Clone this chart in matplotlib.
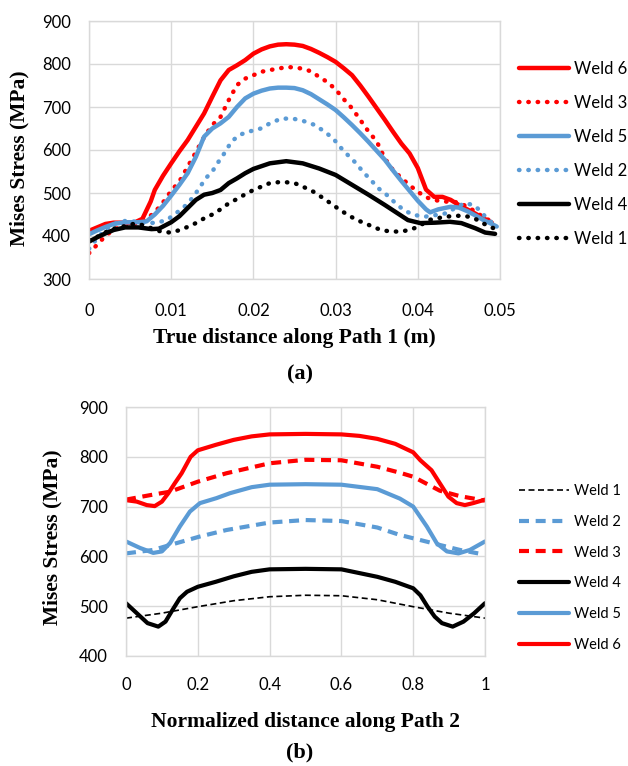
import matplotlib
matplotlib.use("Agg")
import matplotlib.pyplot as plt

# ---------------- Data: (a) Path 1 ----------------
x_w6a = [0, 0.001, 0.002, 0.003, 0.004, 0.0055, 0.0065, 0.0075, 0.008, 0.009, 0.010, 0.011, 0.012, 0.013,
         0.014, 0.015, 0.016, 0.017, 0.018, 0.019, 0.020, 0.021, 0.022, 0.023, 0.024, 0.025, 0.026, 0.027,
         0.028, 0.029, 0.030, 0.031, 0.032, 0.033, 0.034, 0.035, 0.036, 0.037, 0.038, 0.039, 0.040, 0.041,
         0.042, 0.043, 0.044, 0.045, 0.046, 0.047, 0.048, 0.049]
y_w6a = [412, 420, 428, 431, 431, 431, 440, 480, 507, 540, 569, 597, 623, 654,
         685, 724, 762, 786, 797, 809, 824, 834, 841, 845, 846, 845, 842, 835,
         826, 816, 805, 790, 774, 750, 724, 697, 670, 642, 615, 592, 558, 508,
         491, 491, 484, 472, 462, 452, 441, 431]

x_w3a = [0, 0.001, 0.002, 0.003, 0.004, 0.005, 0.006, 0.007, 0.008, 0.009, 0.010, 0.011, 0.012, 0.013,
         0.014, 0.015, 0.016, 0.017, 0.018, 0.019, 0.020, 0.021, 0.022, 0.023, 0.024, 0.025, 0.026, 0.027,
         0.028, 0.029, 0.030, 0.031, 0.032, 0.033, 0.034, 0.035, 0.036, 0.037, 0.038, 0.039, 0.040, 0.041,
         0.042, 0.043, 0.044, 0.045, 0.046, 0.047, 0.048, 0.049]
y_w3a = [360, 380, 400, 415, 422, 426, 430, 440, 455, 478, 505, 527, 561, 595,
         630, 658, 677, 716, 751, 766, 774, 782, 786, 789, 793, 792, 789, 783,
         770, 758, 741, 718, 697, 670, 643, 620, 580, 553, 535, 518, 503, 490,
         484, 480, 480, 478, 468, 457, 443, 434]

x_w5a = [0, 0.001, 0.002, 0.003, 0.004, 0.005, 0.006, 0.007, 0.008, 0.009, 0.010, 0.011, 0.012, 0.013,
         0.014, 0.015, 0.016, 0.017, 0.018, 0.019, 0.020, 0.021, 0.022, 0.023, 0.024, 0.025, 0.026, 0.027,
         0.028, 0.029, 0.030, 0.031, 0.032, 0.033, 0.034, 0.035, 0.036, 0.037, 0.038, 0.039, 0.040, 0.041,
         0.0415, 0.0425, 0.044, 0.045, 0.046, 0.047, 0.048, 0.049, 0.0496]
y_w5a = [404, 413, 421, 428, 431, 432, 432, 434, 450, 470, 494, 519, 546, 584,
         631, 650, 662, 677, 700, 720, 731, 738, 743, 745, 745, 744, 739, 730,
         718, 706, 693, 676, 658, 639, 619, 598, 577, 552, 528, 505, 482, 462,
         455, 462, 468, 466, 458, 448, 437, 428, 422]

x_w2a = [0, 0.001, 0.002, 0.003, 0.0046, 0.0058, 0.007, 0.0084, 0.0096, 0.0106, 0.0117, 0.0127, 0.0134,
         0.0142, 0.0151, 0.0159, 0.0166, 0.0173, 0.0183, 0.0193, 0.0209, 0.0221, 0.0234, 0.0248, 0.026,
         0.0275, 0.0287, 0.0297, 0.0305, 0.0315, 0.0325, 0.0333, 0.0343, 0.0352, 0.0362, 0.0372, 0.0383,
         0.0395, 0.0409, 0.0423, 0.0435, 0.0447, 0.0458, 0.047, 0.0478, 0.0489, 0.0496]
y_w2a = [370, 395, 415, 428, 436, 433, 430, 431, 439, 453, 470, 491, 511,
         534, 553, 577, 596, 619, 635, 642, 650, 663, 673, 673, 668,
         658, 642, 627, 608, 588, 569, 550, 530, 511, 496, 478, 460,
         449, 445, 449, 453, 467, 477, 470, 453, 433, 422]

x_w4a = [0, 0.001, 0.002, 0.003, 0.0044, 0.006, 0.0076, 0.0085, 0.0092, 0.010, 0.011, 0.012, 0.013, 0.014,
         0.015, 0.016, 0.017, 0.018, 0.019, 0.020, 0.022, 0.024, 0.026, 0.028, 0.030, 0.032, 0.034, 0.036,
         0.038, 0.0388, 0.0403, 0.0421, 0.0439, 0.0453, 0.047, 0.0482, 0.0494]
y_w4a = [387, 397, 406, 414, 420, 420, 416, 417, 424, 432, 446, 465, 484, 496,
         500, 507, 523, 534, 546, 556, 569, 574, 569, 557, 542, 519, 496, 472,
         447, 437, 430, 431, 433, 430, 418, 408, 405]

x_w1a = [0, 0.001, 0.00215, 0.0032, 0.0044, 0.0056, 0.0066, 0.0076, 0.0088, 0.0099, 0.0111, 0.0121, 0.013,
         0.014, 0.015, 0.016, 0.017, 0.018, 0.019, 0.020, 0.021, 0.022, 0.023, 0.024, 0.025, 0.026, 0.0273,
         0.0285, 0.0297, 0.0305, 0.0315, 0.0325, 0.0335, 0.0345, 0.0355, 0.0365, 0.0378, 0.039, 0.0401,
         0.0413, 0.0423, 0.0435, 0.0445, 0.0457, 0.0469, 0.0478, 0.0489, 0.05]
y_w1a = [390, 398, 410, 418, 423, 429, 425, 418, 410, 408, 414, 422, 430,
         441, 450, 462, 476, 486, 497, 507, 515, 523, 525, 525, 523, 515, 503,
         488, 472, 461, 449, 438, 430, 422, 414, 411, 410, 414, 422,
         437, 441, 445, 447, 447, 441, 431, 420, 414]

xticks_a = [0, 0.01, 0.02, 0.03, 0.04, 0.05]
xticklabels_a = ["0", "0.01", "0.02", "0.03", "0.04", "0.05"]
yticks_a = [300, 400, 500, 600, 700, 800, 900]

# ---------------- Data: (b) Path 2 ----------------
x_w6b = [0, 0.03, 0.058, 0.08, 0.1, 0.118, 0.136, 0.155, 0.18, 0.2, 0.25, 0.3, 0.35, 0.4, 0.5, 0.6, 0.65,
         0.7, 0.75, 0.8, 0.82, 0.851, 0.874, 0.898, 0.921, 0.944, 0.967, 1.0]
y_w6b = [713, 710, 703, 701, 710, 727, 747, 767, 800, 813, 824, 834, 841, 845, 846, 845, 842,
         836, 826, 809, 793, 773, 747, 720, 707, 703, 707, 714]

x_w3b = [0, 0.067, 0.123, 0.2, 0.28, 0.4, 0.5, 0.6, 0.7, 0.763, 0.8, 0.874, 0.93, 1.0]
y_w3b = [714, 723, 730, 750, 767, 787, 794, 793, 780, 768, 760, 732, 721, 712]

x_w5b = [0, 0.039, 0.076, 0.1, 0.123, 0.15, 0.178, 0.206, 0.252, 0.29, 0.35, 0.4, 0.5, 0.6, 0.7, 0.763,
         0.8, 0.838, 0.866, 0.894, 0.926, 0.958, 1.0]
y_w5b = [630, 617, 607, 610, 627, 660, 690, 707, 717, 727, 739, 744, 745, 744, 735, 716,
         700, 660, 626, 610, 606, 613, 630]

x_w2b = [0, 0.076, 0.123, 0.206, 0.28, 0.4, 0.5, 0.6, 0.7, 0.763, 0.819, 0.874, 0.93, 0.981]
y_w2b = [606, 613, 623, 640, 653, 668, 673, 671, 658, 643, 633, 623, 613, 606]

x_w4b = [0, 0.03, 0.06, 0.09, 0.11, 0.13, 0.15, 0.17, 0.2, 0.25, 0.3, 0.35, 0.4, 0.5, 0.6, 0.7, 0.75,
         0.8, 0.82, 0.84, 0.86, 0.88, 0.91, 0.94, 0.97, 1.0]
y_w4b = [506, 486, 466, 459, 469, 493, 516, 529, 539, 549, 560, 569, 574, 575, 574, 559, 549,
         536, 522, 499, 479, 466, 459, 469, 486, 506]

x_w1b = [0, 0.1, 0.2, 0.3, 0.4, 0.5, 0.6, 0.7, 0.8, 0.9, 1.0]
y_w1b = [476, 486, 499, 511, 519, 522, 521, 513, 499, 486, 476]

xticks_b = [0, 0.2, 0.4, 0.6, 0.8, 1.0]
xticklabels_b = ["0", "0.2", "0.4", "0.6", "0.8", "1"]
yticks_b = [400, 500, 600, 700, 800, 900]

# ---------------- Styling ----------------
RED = "#FF0000"
BLUE = "#5B9BD5"
BLACK = "#000000"
GRID = "#D9D9D9"
TICKFONT = "Lato"
SERIF = "Liberation Serif"
LABELSIZE = 15.5

W, H = 628, 766
fig = plt.figure(figsize=(W / 100, H / 100), dpi=100)


def px_axes(l, t, r, b):
    return [l / W, 1 - b / H, (r - l) / W, (b - t) / H]


def style_axes(ax, xticks, xlabels, yticks, xpad, ypad):
    ax.set_xticks(xticks)
    ax.set_xticklabels(xlabels)
    ax.set_yticks(yticks)
    ax.grid(True, color=GRID, linewidth=1.0)
    ax.set_axisbelow(True)
    for s in ax.spines.values():
        s.set_color(GRID)
        s.set_linewidth(1.0)
    ax.tick_params(length=0, labelsize=12)
    ax.tick_params(axis="x", pad=xpad)
    ax.tick_params(axis="y", pad=ypad)
    for lab in ax.get_xticklabels() + ax.get_yticklabels():
        lab.set_fontfamily(TICKFONT)


dot = (0, (0.1, 2.0))

# (a)
ax1 = fig.add_axes(px_axes(89, 21, 500, 279))
ax1.plot(x_w6a, y_w6a, color=RED, lw=3.2, label="Weld 6", solid_capstyle="round")
ax1.plot(x_w3a, y_w3a, color=RED, lw=3.2, ls=dot, dash_capstyle="round", label="Weld 3")
ax1.plot(x_w5a, y_w5a, color=BLUE, lw=3.2, label="Weld 5", solid_capstyle="round")
ax1.plot(x_w2a, y_w2a, color=BLUE, lw=3.2, ls=dot, dash_capstyle="round", label="Weld 2")
ax1.plot(x_w4a, y_w4a, color=BLACK, lw=3.2, label="Weld 4", solid_capstyle="round")
ax1.plot(x_w1a, y_w1a, color=BLACK, lw=3.2, ls=dot, dash_capstyle="round", label="Weld 1")
ax1.set_xlim(0, 0.05)
ax1.set_ylim(300, 900)
style_axes(ax1, xticks_a, xticklabels_a, yticks_a, xpad=17.5, ypad=13)
ax1.set_ylabel("Mises Stress (MPa)", fontfamily=SERIF, fontweight="bold", fontsize=LABELSIZE)
ax1.yaxis.set_label_coords((29 - 89) / 411, (279 - 158) / 258)
ax1.set_xlabel("True distance along Path 1 (m)", fontfamily=SERIF, fontweight="bold", fontsize=LABELSIZE,
               labelpad=6)
leg1 = ax1.legend(loc="upper left", bbox_to_anchor=(519 / W, 1 - 61 / H), bbox_transform=fig.transFigure,
                  frameon=False, prop={"family": TICKFONT, "size": 12}, handlelength=3.0,
                  handletextpad=0.3, labelspacing=1.08, borderpad=0, borderaxespad=0)
fig.text(300 / W, 1 - 374 / H, "(a)", ha="center", va="center", fontfamily=SERIF,
         fontweight="bold", fontsize=16)

# (b)
ax2 = fig.add_axes(px_axes(126, 407, 485, 656))
ax2.plot(x_w1b, y_w1b, color=BLACK, lw=1.2, ls=(0, (3.6, 2.1)), label="Weld 1")
ax2.plot(x_w2b, y_w2b, color=BLUE, lw=3.0, ls=(0, (2.4, 1.6)), label="Weld 2")
ax2.plot(x_w3b, y_w3b, color=RED, lw=3.0, ls=(0, (2.4, 1.6)), label="Weld 3")
ax2.plot(x_w4b, y_w4b, color=BLACK, lw=3.0, label="Weld 4", solid_capstyle="round")
ax2.plot(x_w5b, y_w5b, color=BLUE, lw=3.0, label="Weld 5", solid_capstyle="round")
ax2.plot(x_w6b, y_w6b, color=RED, lw=3.0, label="Weld 6", solid_capstyle="round")
ax2.set_xlim(0, 1)
ax2.set_ylim(400, 900)
style_axes(ax2, xticks_b, xticklabels_b, yticks_b, xpad=15, ypad=13)
ax2.set_ylabel("Mises Stress (MPa)", fontfamily=SERIF, fontweight="bold", fontsize=LABELSIZE)
ax2.yaxis.set_label_coords((62 - 126) / 359, (656 - 537) / 249)
ax2.set_xlabel("Normalized distance along Path 2", fontfamily=SERIF, fontweight="bold", fontsize=LABELSIZE,
               labelpad=14)
leg2 = ax2.legend(loc="upper left", bbox_to_anchor=(519 / W, 1 - 484 / H), bbox_transform=fig.transFigure,
                  frameon=False, prop={"family": TICKFONT, "size": 10.5}, handlelength=3.4,
                  handletextpad=0.35, labelspacing=1.15, borderpad=0, borderaxespad=0)
fig.text(300 / W, 1 - 752 / H, "(b)", ha="center", va="center", fontfamily=SERIF,
         fontweight="bold", fontsize=16)

fig.savefig("out.png", dpi=100)
